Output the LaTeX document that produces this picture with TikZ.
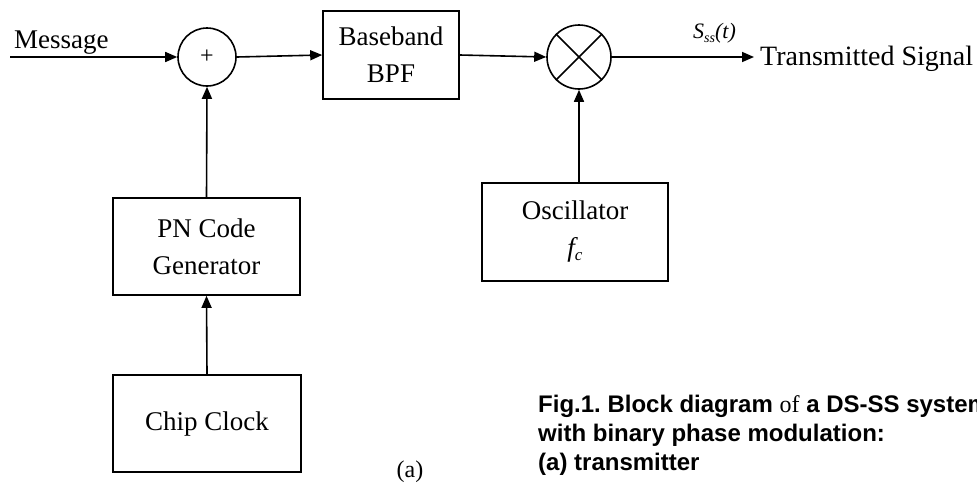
\documentclass[tikz,border=0pt]{standalone}
\usepackage{fontspec}
\setmainfont{Liberation Serif}
\newfontfamily\capfont{Liberation Sans}
\usetikzlibrary{arrows.meta}
\frenchspacing
\tikzset{
  every picture/.style={x=1pt,y=-1pt},
  conn/.style={line width=1.6pt,-{Triangle[length=12pt,width=10pt]}},
  plainline/.style={line width=1.6pt},
  blk/.style={draw,line width=1.6pt,rectangle,inner sep=0pt,align=center,font=\fontsize{27}{37}\selectfont},
  junc/.style={draw,line width=1.6pt,circle,inner sep=0pt},
  lbl/.style={inner sep=0pt,font=\fontsize{27}{37}\selectfont},
}
\begin{document}
\begin{tikzpicture}
\useasboundingbox (0,0) rectangle (977,485);
% blocks
\node[blk,minimum width=136pt,minimum height=88pt] (bpf) at (391,55) {Baseband\\BPF};
\node[blk,minimum width=187pt,minimum height=97pt] (pn) at (206.5,246.5) {PN Code\\Generator};
\node[blk,minimum width=188pt,minimum height=97pt] (clk) at (207,423.5) {Chip Clock};
\node[blk,minimum width=186pt,minimum height=98pt] (osc) at (575,232) {Oscillator\\{\itshape f\raisebox{-4pt}{\fontsize{17}{17}\selectfont c}}};
% junctions
\node[junc,minimum size=58pt,font=\fontsize{24}{24}\selectfont] (sum) at (207,57) {+};
\node[junc,minimum size=64pt] (mul) at (579,57) {};
\draw[plainline] (mul.north east) -- (mul.south west);
\draw[plainline] (mul.north west) -- (mul.south east);
% input / output
\coordinate (in) at (10,57);
\coordinate (out) at (754,57);
\node[lbl,anchor=base west] (msg) at (14,48) {Message};
\node[lbl,anchor=base west,font=\fontsize{28}{34}\selectfont] (tx) at (760,65) {Transmitted Signal};
\node[lbl,anchor=base west,font=\itshape\fontsize{22}{24}\selectfont] (sss) at (693,38) {S\raisebox{-4pt}{\fontsize{14}{14}\selectfont ss}(t)};
% connectors
\draw[conn] (in) -- (sum.west);
\draw[conn] (sum.east) -- (bpf.west);
\draw[conn] (bpf.east) -- (mul.west);
\draw[conn] (mul.east) -- (out);
\draw[conn] (pn.north) -- (sum.south);
\draw[conn] (clk.north) -- (pn.south);
\draw[conn] (mul.south |- osc.north) -- (mul.south);
% labels
\node[lbl,anchor=base,font=\fontsize{24}{28}\selectfont] (sub) at (410,477) {(a)};
\node[inner sep=0pt,anchor=base west,align=left,font=\capfont\bfseries\fontsize{24}{29}\selectfont] (cap) at (538,470)
  {Fig.1. Block diagram {\rmfamily\mdseries of} a DS-SS system\\with binary phase modulation:\\(a) transmitter};
\end{tikzpicture}
\end{document}
